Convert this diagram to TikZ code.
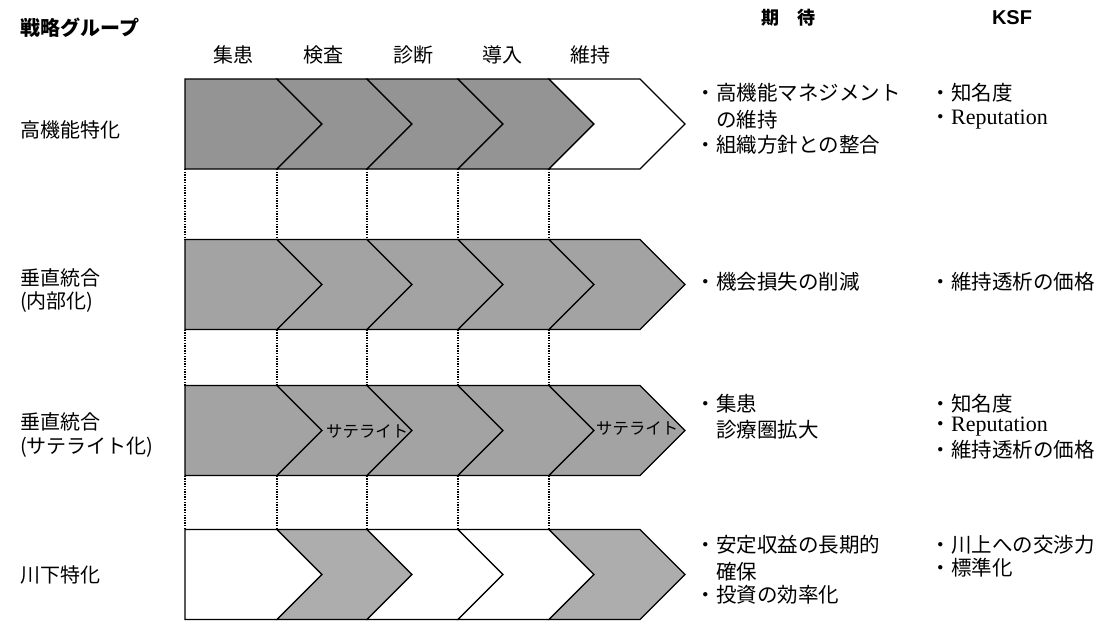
\documentclass[tikz,border=0pt]{standalone}
\usepackage{fontspec}
\setmainfont{Liberation Serif}
\newfontfamily\jp{Noto Sans CJK JP}
\newfontfamily\ksffont{Liberation Sans}
\definecolor{chevA}{gray}{0.58}
\definecolor{chevB}{gray}{0.64}
\definecolor{chevC}{gray}{0.68}
\newcommand\chevrow[2]{%
  \foreach \i/\f in {#2}{%
    \pgfmathsetmacro\xa{{185,277,367,458,549,640}[\i-1]}%
    \pgfmathsetmacro\xb{{185,277,367,458,549,640}[\i]}%
    \ifnum\i=1
      \path[chev,fill=\f] (\xa,#1) -- (\xb,#1) -- (\xb+45,#1+45) -- (\xb,#1+90) -- (\xa,#1+90) -- cycle;
    \else
      \path[chev,fill=\f] (\xa,#1) -- (\xb,#1) -- (\xb+45,#1+45) -- (\xb,#1+90) -- (\xa,#1+90) -- (\xa+45,#1+45) -- cycle;
    \fi
  }}
\begin{document}
\begin{tikzpicture}[x=1pt,y=-1pt,
  chev/.style={draw=black,line width=1.2pt,line join=miter},
  dotline/.style={line width=1.1pt,dash pattern=on 1.4pt off 1.2pt},
  lab/.style={anchor=west,inner sep=0pt,font=\jp\fontsize{20}{24}\selectfont},
  head/.style={anchor=center,inner sep=0pt,font=\jp\fontsize{20}{24}\selectfont},
  txt/.style={anchor=west,inner sep=0pt,font=\jp\fontsize{20.5}{24}\selectfont},
  sat/.style={anchor=west,inner sep=0pt,font=\jp\fontsize{16.4}{20}\selectfont}]
\useasboundingbox (0,0) rectangle (1104,622);
\fill[white] (0,0) rectangle (1104,622);

% chevron rows
\chevrow{79}{1/chevA,2/chevA,3/chevA,4/chevA,5/white}
\chevrow{239.5}{1/chevB,2/chevB,3/chevB,4/chevB,5/chevB}
\chevrow{385.5}{1/chevB,2/chevB,3/chevB,4/chevB,5/chevB}
\chevrow{529.5}{1/white,2/chevC,3/white,4/white,5/chevC}

% dotted guide lines between rows
\foreach \x [count=\k] in {185,277,367,458,549}{
  \coordinate (g1a\k) at (\x,169);   \coordinate (g1b\k) at (\x,239.5);
  \coordinate (g2a\k) at (\x,329.5); \coordinate (g2b\k) at (\x,385.5);
  \coordinate (g3a\k) at (\x,475.5); \coordinate (g3b\k) at (\x,529.5);
  \draw[dotline] (g1a\k) -- (g1b\k);
  \draw[dotline] (g2a\k) -- (g2b\k);
  \draw[dotline] (g3a\k) -- (g3b\k);
}

% headers
\node[lab,font=\jp\bfseries\fontsize{20}{24}\selectfont] (title) at (20,28) {戦略グループ};
\node[head] (h1) at (233,55) {集患};
\node[head] (h2) at (323,55) {検査};
\node[head] (h3) at (413,55) {診断};
\node[head] (h4) at (502,55) {導入};
\node[head] (h5) at (590,55) {維持};
\node[anchor=center,inner sep=0pt,font=\jp\bfseries\fontsize{18}{22}\selectfont] (hexp) at (788,18) {期　待};
\node[anchor=center,inner sep=0pt,font=\ksffont\bfseries\fontsize{20}{24}\selectfont] (hksf) at (1012,18) {KSF};

% row labels
\node[lab] (l1) at (20,130) {高機能特化};
\node[lab] (l2a) at (20,278) {垂直統合};
\node[lab] (l2b) at (20,302) {(内部化)};
\node[lab] (l3a) at (20,422) {垂直統合};
\node[lab] (l3b) at (20,447) {(サテライト化)};
\node[lab] (l4) at (20,575) {川下特化};

% satellite labels
\node[sat] (s1) at (326,431) {サテライト};
\node[sat] (s2) at (596,428) {サテライト};

% expectations
\node[txt] (e1a) at (695.5,93) {・高機能マネジメント};
\node[txt] (e1b) at (716,120) {の維持};
\node[txt] (e1c) at (695.5,145) {・組織方針との整合};
\node[txt] (e2a) at (695.5,282) {・機会損失の削減};
\node[txt] (e3a) at (695.5,404) {・集患};
\node[txt] (e3b) at (716,430) {診療圏拡大};
\node[txt] (e4a) at (695.5,545) {・安定収益の長期的};
\node[txt] (e4b) at (716,572) {確保};
\node[txt] (e4c) at (695.5,595) {・投資の効率化};

% KSF
\node[txt] (k1a) at (930.5,93) {・知名度};
\node[txt] (k1b) at (930.5,120) {・{\rmfamily\fontsize{22}{24}\selectfont Reputation}};
\node[txt] (k2a) at (930.5,282) {・維持透析の価格};
\node[txt] (k3a) at (930.5,404) {・知名度};
\node[txt] (k3b) at (930.5,427) {・{\rmfamily\fontsize{22}{24}\selectfont Reputation}};
\node[txt] (k3c) at (930.5,450) {・維持透析の価格};
\node[txt] (k4a) at (930.5,545) {・川上への交渉力};
\node[txt] (k4b) at (930.5,568) {・標準化};
\end{tikzpicture}
\end{document}
